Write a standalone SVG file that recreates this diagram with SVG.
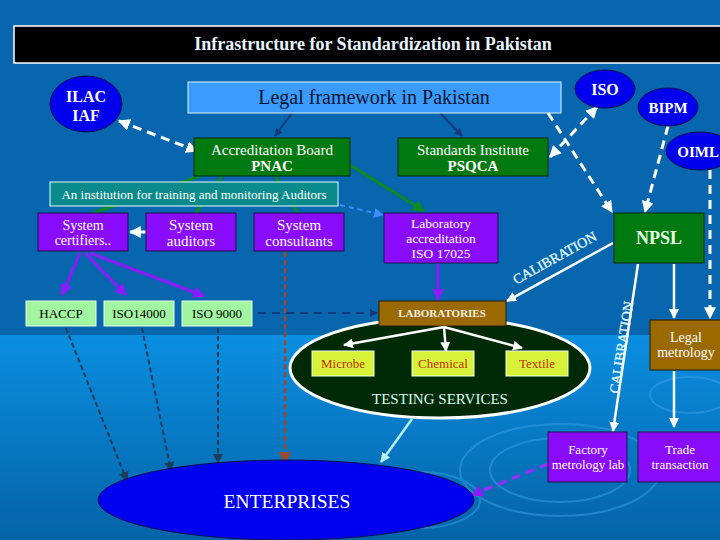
<svg xmlns="http://www.w3.org/2000/svg" width="720" height="540" viewBox="0 0 720 540">
<defs>
<linearGradient id="sea" x1="0" y1="0" x2="0" y2="1">
<stop offset="0" stop-color="#0a8ee0"/>
<stop offset="1" stop-color="#0563a8"/>
</linearGradient>
<marker id="aw" viewBox="0 0 10 10" refX="9" refY="5" markerWidth="4" markerHeight="4" orient="auto-start-reverse"><path d="M0,0L10,5L0,10z" fill="#ffffff"/></marker>
<marker id="an" viewBox="0 0 10 10" refX="9" refY="5" markerWidth="4" markerHeight="4" orient="auto"><path d="M0,0L10,5L0,10z" fill="#123a78"/></marker>
<marker id="ag" viewBox="0 0 10 10" refX="9" refY="5" markerWidth="4" markerHeight="4" orient="auto"><path d="M0,0L10,5L0,10z" fill="#0a8a20"/></marker>
<marker id="ap" viewBox="0 0 10 10" refX="9" refY="5" markerWidth="4" markerHeight="4" orient="auto"><path d="M0,0L10,5L0,10z" fill="#8a1cff"/></marker>
<marker id="ad" viewBox="0 0 10 10" refX="9" refY="5" markerWidth="5" markerHeight="5" orient="auto"><path d="M0,0L10,5L0,10z" fill="#1d3d5c"/></marker>
<marker id="ab" viewBox="0 0 10 10" refX="9" refY="5" markerWidth="5" markerHeight="5" orient="auto"><path d="M0,0L10,5L0,10z" fill="#9a4a2a"/></marker>
<marker id="alb" viewBox="0 0 10 10" refX="9" refY="5" markerWidth="5" markerHeight="5" orient="auto"><path d="M0,0L10,5L0,10z" fill="#3a8cff"/></marker>
<marker id="ac" viewBox="0 0 10 10" refX="9" refY="5" markerWidth="4" markerHeight="4" orient="auto"><path d="M0,0L10,5L0,10z" fill="#b8f0ff"/></marker>
</defs>
<style>
.t{font-family:"Liberation Serif","Times New Roman",serif;}
.w{fill:#ffffff;}
.b{font-weight:bold;}
.grn{fill:#007a10;stroke:#0a2a0a;stroke-width:1;}
.pur{fill:#8a0cff;stroke:#20104a;stroke-width:1;}
.lg{fill:#a2f5a0;stroke:#e8ffe8;stroke-width:1;}
.brn{fill:#9a6a00;stroke:#2a1a00;stroke-width:1;}
.yl{fill:#d8f23a;stroke:#e8ffe8;stroke-width:1;}
.oval{fill:#0000ee;stroke:#101050;stroke-width:1;}
</style>
<rect x="0" y="0" width="720" height="540" fill="#0766ae"/>
<rect x="0" y="335" width="720" height="205" fill="url(#sea)"/>
<g fill="none" stroke="#3aa0e8" stroke-width="2" opacity="0.5">
<ellipse cx="560" cy="470" rx="70" ry="32"/>
<ellipse cx="560" cy="470" rx="100" ry="46"/>
<ellipse cx="420" cy="500" rx="60" ry="28"/>
<ellipse cx="690" cy="395" rx="40" ry="18"/>
</g>

<g id="title">
<rect x="14" y="26" width="720" height="37" fill="#000000" stroke="#ffffff" stroke-width="1.5"/>
<text class="t b" x="373" y="50" font-size="18" text-anchor="middle" fill="#e8f4ff">Infrastructure for Standardization in Pakistan</text>
</g>

<g id="connectors">
<line x1="292" y1="113" x2="275" y2="136" stroke="#123a78" stroke-width="2" marker-end="url(#an)"/>
<line x1="440" y1="113" x2="462" y2="136" stroke="#123a78" stroke-width="2" marker-end="url(#an)"/>
<line x1="119" y1="121" x2="197" y2="151" stroke="#ffffff" stroke-width="3" stroke-dasharray="9,6" marker-start="url(#aw)" marker-end="url(#aw)"/>
<line x1="597" y1="107" x2="550" y2="157" stroke="#ffffff" stroke-width="3" stroke-dasharray="9,6" marker-start="url(#aw)" marker-end="url(#aw)"/>
<line x1="548" y1="113" x2="612" y2="212" stroke="#ffffff" stroke-width="3" stroke-dasharray="9,6" marker-end="url(#aw)"/>
<line x1="668" y1="126" x2="645" y2="212" stroke="#ffffff" stroke-width="3" stroke-dasharray="9,6" marker-end="url(#aw)"/>
<line x1="710" y1="170" x2="710" y2="318" stroke="#ffffff" stroke-width="3" stroke-dasharray="9,6" marker-end="url(#aw)"/>
<line x1="200" y1="176" x2="93" y2="213" stroke="#0a8a20" stroke-width="3"/>
<line x1="222" y1="176" x2="196" y2="213" stroke="#0a8a20" stroke-width="3"/>
<line x1="275" y1="176" x2="298" y2="213" stroke="#0a8a20" stroke-width="3"/>
<line x1="350" y1="165" x2="424" y2="211" stroke="#0a8a20" stroke-width="3" marker-end="url(#ag)"/>
<line x1="340" y1="205" x2="383" y2="215" stroke="#3a8cff" stroke-width="2" stroke-dasharray="5,4" marker-end="url(#alb)"/>
<line x1="146" y1="232" x2="130" y2="232" stroke="#ffffff" stroke-width="3" marker-end="url(#aw)"/>
<line x1="80" y1="253" x2="62" y2="295" stroke="#8a1cff" stroke-width="3" marker-end="url(#ap)"/>
<line x1="85" y1="253" x2="126" y2="295" stroke="#8a1cff" stroke-width="3" marker-end="url(#ap)"/>
<line x1="90" y1="253" x2="204" y2="296" stroke="#8a1cff" stroke-width="3" marker-end="url(#ap)"/>
<line x1="438" y1="263" x2="438" y2="300" stroke="#8a1cff" stroke-width="3" marker-end="url(#ap)"/>
<line x1="258" y1="313" x2="377" y2="313" stroke="#123a78" stroke-width="2" stroke-dasharray="8,6" marker-end="url(#an)"/>
<line x1="66" y1="328" x2="127" y2="481" stroke="#1d3d5c" stroke-width="2" stroke-dasharray="5,3" marker-end="url(#ad)"/>
<line x1="142" y1="328" x2="171" y2="471" stroke="#1d3d5c" stroke-width="2" stroke-dasharray="5,3" marker-end="url(#ad)"/>
<line x1="218" y1="328" x2="218" y2="463" stroke="#1d3d5c" stroke-width="2" stroke-dasharray="5,3" marker-end="url(#ad)"/>
<line x1="285" y1="252" x2="285" y2="463" stroke="#9a4a2a" stroke-width="2.5" stroke-dasharray="5,3" marker-end="url(#ab)"/>
<line x1="613" y1="243" x2="507" y2="301" stroke="#ffffff" stroke-width="2.5" marker-end="url(#aw)"/>
<line x1="638" y1="264" x2="613" y2="431" stroke="#ffffff" stroke-width="2.5" marker-end="url(#aw)"/>
<line x1="674" y1="264" x2="674" y2="318" stroke="#ffffff" stroke-width="2.5" marker-end="url(#aw)"/>
<line x1="674" y1="371" x2="674" y2="427" stroke="#ffffff" stroke-width="2.5" marker-end="url(#aw)"/>
<line x1="548" y1="464" x2="472" y2="495" stroke="#9a2cff" stroke-width="3" stroke-dasharray="9,6" marker-end="url(#ap)"/>
<line x1="412" y1="419" x2="381" y2="462" stroke="#b8f0ff" stroke-width="2.5" marker-end="url(#ac)"/>
</g>

<g id="ilac">
<ellipse cx="86" cy="104" rx="36" ry="28" class="oval"/>
<text class="t b w" x="86" y="102" font-size="16" text-anchor="middle">ILAC</text>
<text class="t b w" x="86" y="121" font-size="16" text-anchor="middle">IAF</text>
</g>
<g id="legal">
<rect x="188" y="82" width="373" height="31" fill="#3a9cff" stroke="#e0f0ff" stroke-width="1"/>
<text class="t" x="374" y="104" font-size="20" text-anchor="middle" fill="#001433">Legal framework in Pakistan</text>
</g>
<g id="iso">
<ellipse cx="605" cy="89" rx="30" ry="19" class="oval"/>
<text class="t b w" x="605" y="95" font-size="16" text-anchor="middle">ISO</text>
</g>
<g id="bipm">
<ellipse cx="668" cy="107" rx="30" ry="19" class="oval"/>
<text class="t b w" x="668" y="113" font-size="15" text-anchor="middle">BIPM</text>
</g>
<g id="oiml">
<ellipse cx="700" cy="151" rx="34" ry="19" class="oval"/>
<text class="t b w" x="719" y="157" font-size="15" text-anchor="end">OIML</text>
</g>
<g id="pnac">
<rect x="194" y="138" width="156" height="38" class="grn"/>
<text class="t w" x="272" y="155" font-size="15" text-anchor="middle">Accreditation Board</text>
<text class="t b w" x="272" y="171" font-size="15" text-anchor="middle">PNAC</text>
</g>
<g id="psqca">
<rect x="398" y="138" width="150" height="38" class="grn"/>
<text class="t w" x="473" y="155" font-size="15" text-anchor="middle">Standards Institute</text>
<text class="t b w" x="473" y="171" font-size="15" text-anchor="middle">PSQCA</text>
</g>
<g id="institution">
<rect x="50" y="182" width="288" height="24" fill="#0a8a8a" stroke="#e0ffff" stroke-width="1"/>
<text class="t w" x="194" y="199" font-size="13" text-anchor="middle">An institution for training and monitoring Auditors</text>
</g>
<g id="certifiers">
<rect x="38" y="213" width="90" height="38" class="pur"/>
<text class="t w" x="83" y="230" font-size="14" text-anchor="middle">System</text>
<text class="t w" x="83" y="245" font-size="14" text-anchor="middle">certifiers..</text>
</g>
<g id="auditors">
<rect x="146" y="213" width="90" height="38" class="pur"/>
<text class="t w" x="191" y="230" font-size="15" text-anchor="middle">System</text>
<text class="t w" x="191" y="246" font-size="15" text-anchor="middle">auditors</text>
</g>
<g id="consultants">
<rect x="254" y="213" width="90" height="38" class="pur"/>
<text class="t w" x="299" y="230" font-size="15" text-anchor="middle">System</text>
<text class="t w" x="299" y="246" font-size="15" text-anchor="middle">consultants</text>
</g>
<g id="labacc">
<rect x="384" y="213" width="114" height="50" class="pur"/>
<text class="t w" x="441" y="228" font-size="13.5" text-anchor="middle">Laboratory</text>
<text class="t w" x="441" y="243" font-size="13.5" text-anchor="middle">accreditation</text>
<text class="t w" x="441" y="258" font-size="13.5" text-anchor="middle">ISO 17025</text>
</g>
<g id="npsl">
<rect x="614" y="213" width="90" height="50" class="grn"/>
<text class="t b" x="659" y="244" font-size="18" text-anchor="middle" fill="#e8ffe0">NPSL</text>
</g>
<g id="haccp">
<rect x="26" y="301" width="70" height="25" class="lg"/>
<text class="t" x="61" y="318" font-size="13" text-anchor="middle" fill="#000">HACCP</text>
</g>
<g id="iso14000">
<rect x="104" y="301" width="70" height="25" class="lg"/>
<text class="t" x="139" y="318" font-size="13" text-anchor="middle" fill="#000">ISO14000</text>
</g>
<g id="iso9000">
<rect x="182" y="301" width="70" height="25" class="lg"/>
<text class="t" x="217" y="318" font-size="13" text-anchor="middle" fill="#000">ISO 9000</text>
</g>
<g id="testing">
<ellipse cx="440" cy="368" rx="150" ry="50" fill="#002a06" stroke="#ffffff" stroke-width="3"/>
<text class="t" x="440" y="404" font-size="15" text-anchor="middle" fill="#d8fff0">TESTING SERVICES</text>
</g>
<g id="laboratories">
<rect x="379" y="301" width="127" height="25" class="brn"/>
<text class="t b" x="442" y="317" font-size="11" text-anchor="middle" fill="#f0f0e0">LABORATORIES</text>
</g>
<g id="testarrows">
<line x1="444" y1="327" x2="344" y2="345" stroke="#ffffff" stroke-width="2.5" marker-end="url(#aw)"/>
<line x1="444" y1="327" x2="446" y2="351" stroke="#ffffff" stroke-width="2.5" marker-end="url(#aw)"/>
<line x1="444" y1="327" x2="522" y2="348" stroke="#ffffff" stroke-width="2.5" marker-end="url(#aw)"/>
</g>
<g id="microbe">
<rect x="312" y="351" width="62" height="25" class="yl"/>
<text class="t" x="343" y="368" font-size="13" text-anchor="middle" fill="#c03000">Microbe</text>
</g>
<g id="chemical">
<rect x="412" y="351" width="62" height="25" class="yl"/>
<text class="t" x="443" y="368" font-size="13" text-anchor="middle" fill="#c03000">Chemical</text>
</g>
<g id="textile">
<rect x="506" y="351" width="62" height="25" class="yl"/>
<text class="t" x="537" y="368" font-size="13" text-anchor="middle" fill="#c03000">Textile</text>
</g>
<g id="calib-labels">
<text class="t" font-size="14" fill="#c8f4ff" stroke="#ffffff" stroke-width="0.3" text-anchor="middle" transform="translate(557,262) rotate(-29)">CALIBRATION</text>
<text class="t" font-size="14" fill="#c8f4ff" stroke="#ffffff" stroke-width="0.3" text-anchor="middle" transform="translate(626,348) rotate(-81)">CALIBRATION</text>
</g>
<g id="legalmet">
<rect x="650" y="320" width="75" height="50" class="brn"/>
<text class="t w" x="686" y="342" font-size="14" text-anchor="middle">Legal</text>
<text class="t w" x="686" y="357" font-size="14" text-anchor="middle">metrology</text>
</g>
<g id="factory">
<rect x="548" y="432" width="79" height="50" class="pur"/>
<text class="t w" x="588" y="454" font-size="13" text-anchor="middle">Factory</text>
<text class="t w" x="588" y="469" font-size="13" text-anchor="middle">metrology lab</text>
</g>
<g id="trade">
<rect x="638" y="432" width="85" height="50" class="pur"/>
<text class="t w" x="680" y="454" font-size="13" text-anchor="middle">Trade</text>
<text class="t w" x="680" y="469" font-size="13" text-anchor="middle">transaction</text>
</g>
<g id="enterprises">
<ellipse cx="286" cy="500" rx="188" ry="40" fill="#0000f0" stroke="#101050" stroke-width="1"/>
<text class="t" x="287" y="508" font-size="19.5" text-anchor="middle" fill="#ffffff">ENTERPRISES</text>
</g>
</svg>
